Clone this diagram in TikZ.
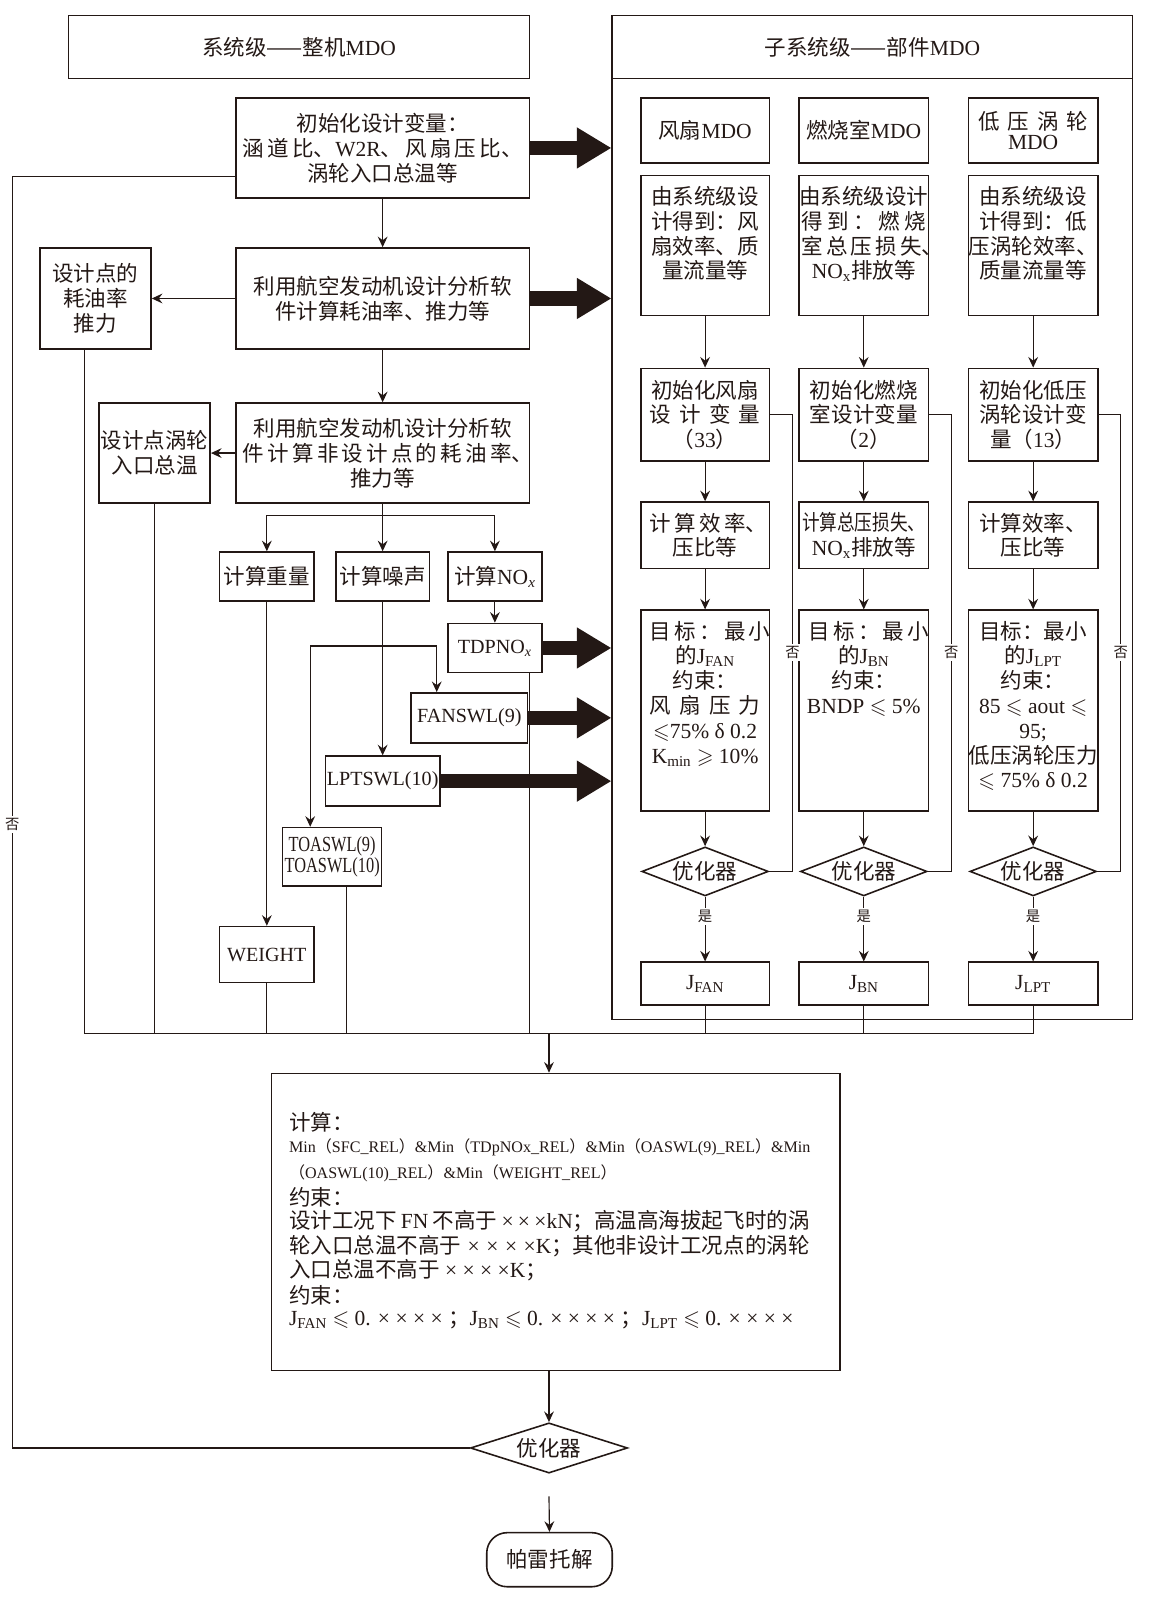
\documentclass[tikz,border=0pt]{standalone}
\usepackage{graphicx}
\usepackage{fontspec}
\usepackage{amssymb}
\setmainfont{Noto Sans CJK SC}
\newfontfamily\lat{Liberation Serif}
\newcommand\la[1]{{\lat #1}}
\newcommand\spr[2]{\makebox[#1][s]{#2}}
\newcommand\nar[2]{\scalebox{#1}[1]{#2}}
% \bx[options]{name}{x1}{y1}{x2}{y2}{text}
\newcommand\bx[7][]{\node[box,#1,minimum width={(#5-#3)*0.025cm},minimum height={(#6-#4)*0.025cm}] (#2) at ({(#3+#5)/2},{(#4+#6)/2}) {#7};}
\usetikzlibrary{arrows.meta,shapes.geometric,calc}
\definecolor{ink}{RGB}{35,24,21}
\begin{document}
\begin{tikzpicture}[x=0.025cm,y=-0.025cm,ink,font=\fontsize{15}{17.3}\selectfont,
  box/.style={draw=ink,line width=1.1pt,inner sep=0pt,align=center},
  txt/.style={inner sep=0pt,align=center},
  lt/.style={font=\fontsize{14}{16}\selectfont},
  con/.style={draw=ink,line width=0.8pt},
  arr/.style={con,-{Stealth[length=0.26cm,width=0.24cm,inset=0.09cm]}},
  big/.style={draw=ink,line width=0.35cm,-{Triangle[length=0.85cm,width=0.95cm]}},
  dia/.style={diamond,draw=ink,line width=1.1pt,inner sep=0pt,aspect=2.5},
  lbl/.style={fill=white,inner sep=1.5pt,font=\fontsize{10}{12}\selectfont},
  sm/.style={font=\fontsize{11.2}{12}\selectfont}]
\useasboundingbox (0,0) rectangle (1146,1568);

% ---------- headers ----------
\bx{hL}{67}{15}{519}{77}{系统级——整机\la{MDO}}
\bx{hR}{600}{15}{1110}{77}{子系统级——部件\la{MDO}}
\bx{sub}{600}{77}{1110}{999}{}

% ---------- system level ----------
\bx{A}{231}{96}{519}{194}{初始化设计变量：\\\spr{6.85cm}{涵 道 比、\la{W2R}、 风 扇 压 比、}\\涡轮入口总温等}
\bx{B}{231}{243}{519}{342}{利用航空发动机设计分析软\\件计算耗油率、推力等}
\bx{C}{231}{395}{519}{493}{利用航空发动机设计分析软\\\spr{6.85cm}{件 计 算 非 设 计 点 的 耗 油 率、}\\推力等}
\bx{L1}{39}{243}{148}{342}{设计点的\\耗油率\\推力}
\bx{L2}{97}{395}{206}{493}{设计点涡轮\\入口总温}

\bx{W1}{215}{541}{308}{589}{计算重量}
\bx{N1}{329}{541}{421}{589}{计算噪声}
\bx{X1}{439}{541}{531}{589}{计算\la{NO\textsubscript{\itshape x}}}
\bx[lt]{TDP}{439}{611}{531}{659}{\la{TDPNO\textsubscript{\itshape x}}}
\bx[lt]{FAN}{403}{679}{517}{728}{\la{FANSWL(9)}}
\bx[lt]{LPT}{319}{741}{431}{790}{\la{LPTSWL(10)}}
\bx{TOA}{277}{811}{374}{868}{\nar{0.76}{\la{TOASWL(9)}}\\[-3pt]\nar{0.76}{\la{TOASWL(10)}}}
\bx[lt]{WEI}{215}{908}{308}{963}{\la{WEIGHT}}

% ---------- subsystem columns ----------
\bx{a1}{628}{96}{754}{160}{风扇\la{MDO}}
\bx{b1}{783}{96}{910}{160}{燃烧室\la{MDO}}
\bx{c1}{949}{96}{1076}{160}{\spr{2.7cm}{低 压 涡 轮}\\[-3pt]\la{MDO}}

\bx{a2}{628}{172}{754}{309}{}
\bx{b2}{783}{172}{910}{309}{}
\bx{c2}{949}{172}{1076}{309}{}
\node[txt,anchor=north] (a2t) at ($(a2.north)+(0,11)$) {由系统级设\\计得到：风\\扇效率、质\\量流量等};
\node[txt,anchor=north] (b2t) at ($(b2.north)+(0,11)$) {由系统级设计\\\spr{3.05cm}{得 到 ： 燃 烧}\\\spr{3.05cm}{室 总 压 损 失、}\\\la{NO\textsubscript{x}}排放等};
\node[txt,anchor=north] (c2t) at ($(c2.north)+(0,11)$) {由系统级设\\计得到：低\\压涡轮效率、\\质量流量等};

\bx{a3}{628}{361}{754}{452}{初始化风扇\\\spr{2.7cm}{设 计 变 量}\\（\la{33}）}
\bx{b3}{783}{361}{910}{452}{初始化燃烧\\室设计变量\\（\la{2}）}
\bx{c3}{949}{361}{1076}{452}{初始化低压\\涡轮设计变\\量（\la{13}）}

\bx{a4}{628}{492}{754}{557}{\spr{2.7cm}{计 算 效 率、}\\压比等}
\bx{b4}{783}{492}{910}{557}{\nar{0.82}{计算总压损失、}\\\la{NO\textsubscript{x}}排放等}
\bx{c4}{949}{492}{1076}{557}{计算效率、\\压比等}

\bx{a5}{628}{598}{754}{795}{}
\bx{b5}{783}{598}{910}{795}{}
\bx{c5}{949}{598}{1076}{795}{}
\node[txt,anchor=north] (a5t) at ($(a5.north)+(0,11)$) {\spr{2.7cm}{目 标 ： 最 小}\\的\la{J\textsubscript{FAN}}\\约束：\\\spr{2.7cm}{风 扇 压 力}\\\la{$\leqslant$75\% δ 0.2}\\\la{K\textsubscript{min} $\geqslant$ 10\%}};
\node[txt,anchor=north] (b5t) at ($(b5.north)+(0,11)$) {\spr{2.7cm}{目 标 ： 最 小}\\的\la{J\textsubscript{BN}}\\约束：\\\la{BNDP $\leqslant$ 5\%}};
\node[txt,anchor=north] (c5t) at ($(c5.north)+(0,11)$) {目标：最小\\的\la{J\textsubscript{LPT}}\\约束：\\\la{85 $\leqslant$ aout $\leqslant$}\\\la{95;}\\低压涡轮压力\\\la{$\leqslant$ 75\% δ 0.2}};

\node[dia,minimum width=3.1cm,minimum height=1.2cm] (a6) at (691,854) {优化器};
\node[dia,minimum width=3.1cm,minimum height=1.2cm] (b6) at (846.5,854) {优化器};
\node[dia,minimum width=3.1cm,minimum height=1.2cm] (c6) at (1012.5,854) {优化器};

\bx{a7}{628}{943}{754}{985}{\la{J\textsubscript{FAN}}}
\bx{b7}{783}{943}{910}{985}{\la{J\textsubscript{BN}}}
\bx{c7}{949}{943}{1076}{985}{\la{J\textsubscript{LPT}}}

% ---------- bottom ----------
\bx{BOT}{266}{1052}{823}{1343}{}
\node[txt,anchor=west] (t1) at (283,1100) {计算：};
\node[txt,anchor=west,sm] (t2) at (283,1124) {\la{Min}（\la{SFC\_REL}）\la{\&Min}（\la{TDpNOx\_REL}）\la{\&Min}（\la{OASWL(9)\_REL}）\la{\&Min}};
\node[txt,anchor=west,sm] (t3) at (283,1150) {（\la{OASWL(10)\_REL}）\la{\&Min}（\la{WEIGHT\_REL}）};
\node[txt,anchor=west] (t4) at (283,1173) {约束：};
\node[txt,anchor=west] (t5) at (283,1197) {\spr{12.75cm}{设计工况下\la{ FN }不高于\la{ × × ×kN}；高温高海拔起飞时的涡}};
\node[txt,anchor=west] (t6) at (283,1221) {\spr{12.75cm}{轮入口总温不高于\la{ × × × ×K}；其他非设计工况点的涡轮}};
\node[txt,anchor=west] (t7) at (283,1245) {入口总温不高于\la{ × × × ×K}；};
\node[txt,anchor=west] (t8) at (283,1269) {约束：};
\node[txt,anchor=west] (t9) at (283,1294) {\la{J\textsubscript{FAN} $\leqslant$ 0. × × × × }；\la{J\textsubscript{BN} $\leqslant$ 0. × × × × }；\la{J\textsubscript{LPT} $\leqslant$ 0. × × × ×}};

\node[dia,minimum width=3.85cm,minimum height=1.23cm] (D0) at (538,1419) {优化器};
\bx[rounded corners=0.5cm]{PAR}{477}{1502}{600}{1555}{帕雷托解}

% ---------- system connectors ----------
\draw[arr] (A) -- (B);
\draw[arr] (B) -- (C);
\draw[arr] (B) -- (L1);
\draw[arr] (C) -- (L2);
\coordinate (br) at (375,505);
\draw[con] (C.south) -- (br);
\draw[con] (W1.north |- br) -- (X1.north |- br);
\draw[arr] (W1.north |- br) -- (W1.north);
\draw[arr] (br) -- (N1.north);
\draw[arr] (X1.north |- br) -- (X1.north);
\draw[arr] (X1) -- (TDP);
\draw[arr] (N1) -- (LPT);
\coordinate (nL) at (304,633);
\coordinate (nR) at (428,633);
\draw[con] (nL) -- (nR);
\draw[arr] (nR) -- (nR |- FAN.north);
\draw[arr] (nL) -- (nL |- TOA.north);
\draw[arr] (W1) -- (WEI);

% collector
\coordinate (cm) at (538,1013);
\coordinate (s1) at ($(L1.south west)+(45,0)$);
\coordinate (s4) at ($(TOA.south)+(14,0)$);
\coordinate (s5) at ($(TDP.south)+(34,0)$);
\draw[con] (s1) -- (s1 |- cm);
\draw[con] (L2.south) -- (L2.south |- cm);
\draw[con] (WEI.south) -- (WEI.south |- cm);
\draw[con] (s4) -- (s4 |- cm);
\draw[con] (s5) -- (s5 |- cm);
\draw[con] (a7.south) -- (a7.south |- cm);
\draw[con] (b7.south) -- (b7.south |- cm);
\draw[con] (c7.south) -- (c7.south |- cm);
\draw[con] (s1 |- cm) -- (c7.south |- cm);
\draw[arr] (cm) -- (cm |- BOT.north);
\draw[arr] (cm |- BOT.south) -- (D0.north);
\draw[arr] ([yshift=-0.55cm]D0.south) -- (PAR.north);
\coordinate (lp) at (12,1419);
\coordinate (aL) at (231,173);
\draw[con] (D0.west) -- (lp) |- (aL);
\node[lbl] (no0) at (12,808) {否};

% thick arrows
\draw[big] (A.east) -- (A.east -| sub.west);
\draw[big] (B.east) -- (B.east -| sub.west);
\draw[big] (TDP.east) -- (TDP.east -| sub.west);
\draw[big] (FAN.east) -- (FAN.east -| sub.west);
\draw[big] (LPT.east) -- (LPT.east -| sub.west);

% ---------- subsystem connectors ----------
\foreach \c in {a,b,c}{
  \draw[arr] (\c2) -- (\c3);
  \draw[arr] (\c3) -- (\c4);
  \draw[arr] (\c4) -- (\c5);
  \draw[arr] (\c5) -- (\c6);
  \draw[arr] (\c6) -- node[lbl,pos=0.3]{是} (\c7);
  \coordinate (f\c) at ($(\c6.east)+(23,0)$);
  \draw[con] (\c6.east) -- (f\c) -- node[lbl,pos=0.48]{否} (f\c |- \c3.east) -- (\c3.east);
}
\end{tikzpicture}
\end{document}
